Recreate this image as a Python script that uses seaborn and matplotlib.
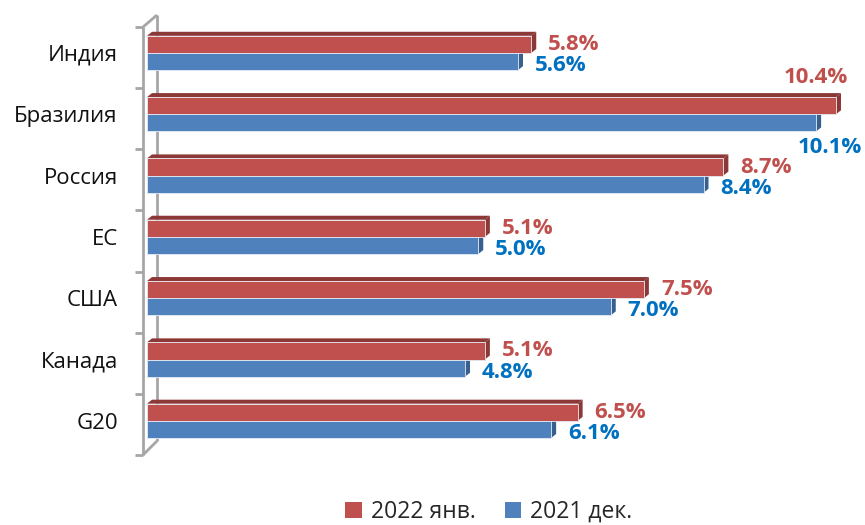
import pandas as pd
import numpy as np
import seaborn as sns
import matplotlib.pyplot as plt
from matplotlib.patches import Polygon, Patch
from matplotlib.lines import Line2D

# data
countries = ["Индия", "Бразилия", "Россия", "ЕС", "США", "Канада", "G20"]
jan_2022 = [5.8, 10.4, 8.7, 5.1, 7.5, 5.1, 6.5]
dec_2021 = [5.6, 10.1, 8.4, 5.0, 7.0, 4.8, 6.1]
series = ["2022 янв.", "2021 дек."]

df = pd.DataFrame({
    "country": countries * 2,
    "value": jan_2022 + dec_2021,
    "series": [series[0]] * len(countries) + [series[1]] * len(countries),
})

red, blue = "#C0504D", "#4F81BD"
red_dark, blue_dark = "#8C3836", "#38608F"
red_txt, blue_txt = "#C0504D", "#0070C0"

sns.set_style("white")
plt.rcParams["font.family"] = ["Open Sans", "DejaVu Sans"]

W, H = 865, 525
fig = plt.figure(figsize=(W / 100, H / 100), dpi=100)
# axes placed in pixels: x from 147 to 862.5, y from 22.3 to 451.5
ax = fig.add_axes([147 / W, 1 - 451.5 / H, 715.5 / W, 429.2 / H])

sns.barplot(data=df, y="country", x="value", hue="series", hue_order=series,
            palette=[red, blue], width=0.56, orient="h", ax=ax, legend=False,
            edgecolor="#E6ECF4", linewidth=0.6, saturation=1)

ax.set_xlim(0, 10.8)
ax.set_ylim(6.5, -0.5)
ax.set_xlabel("")
ax.set_ylabel("")
ax.set_xticks([])
for s in ax.spines.values():
    s.set_visible(False)
ax.tick_params(axis="y", length=0, pad=21, labelsize=16, labelcolor="#111111")

# 3D look: top face and side face for every bar
dx = 5 / 66.25
dy = 4 / 61.3
darks = [red_dark, blue_dark]
for j, cont in enumerate(ax.containers):
    for bar in cont:
        x0, y0 = bar.get_x(), bar.get_y()
        x1 = x0 + bar.get_width()
        y1 = y0 + bar.get_height()
        top = Polygon([(x0, y0), (x0 + dx, y0 - dy), (x1 + dx, y0 - dy), (x1, y0)],
                      closed=True, facecolor=darks[j], edgecolor="none", zorder=0.6)
        side = Polygon([(x1, y0), (x1 + dx, y0 - dy), (x1 + dx, y1 - dy), (x1, y1)],
                       closed=True, facecolor=darks[j], edgecolor="none", zorder=0.6)
        ax.add_patch(top)
        ax.add_patch(side)

# value labels
txt_colors = [red_txt, blue_txt]
default_off = [(17, 0, "left"), (17, -4, "left")]
special = {("Бразилия", 0): (12, 28, "right"), ("Бразилия", 1): (-18, -25, "left")}
for j, cont in enumerate(ax.containers):
    for bar in cont:
        v = bar.get_width()
        yc = bar.get_y() + bar.get_height() / 2
        name = countries[int(round(yc))]
        ox, oy, ha = special.get((name, j), default_off[j])
        ax.annotate(f"{v:.1f}%", xy=(v, yc), xytext=(ox, oy), textcoords="offset pixels",
                    ha=ha, va="center", fontsize=16, fontweight="bold",
                    color=txt_colors[j], annotation_clip=False)

# left 3D wall (in figure pixels)
def px(x, y):
    return x / W, 1 - y / H

wall_col = "#A6A6A6"
wall = [((143, 27), (143, 455)), ((157, 15), (157, 441)),
        ((143, 27), (157, 15)), ((143, 455), (157, 441))]
for k in range(8):
    yk = 27 + k * (455 - 27) / 7
    wall.append(((135, yk), (143, yk)))
for (a, b) in wall:
    (xa, ya), (xb, yb) = px(*a), px(*b)
    ax.add_line(Line2D([xa, xb], [ya, yb], transform=fig.transFigure, color=wall_col,
                       lw=2, zorder=0.3, clip_on=False, solid_capstyle="butt"))

handles = [Patch(facecolor=red, edgecolor="none"), Patch(facecolor=blue, edgecolor="none")]
fig.legend(handles, series, loc="center", bbox_to_anchor=(489 / W, 1 - 512 / H),
           ncol=2, frameon=False, fontsize=16.5, handlelength=0.7, handleheight=0.7,
           handletextpad=0.4, columnspacing=1.3, borderpad=0)

fig.savefig("out.png", dpi=100)
